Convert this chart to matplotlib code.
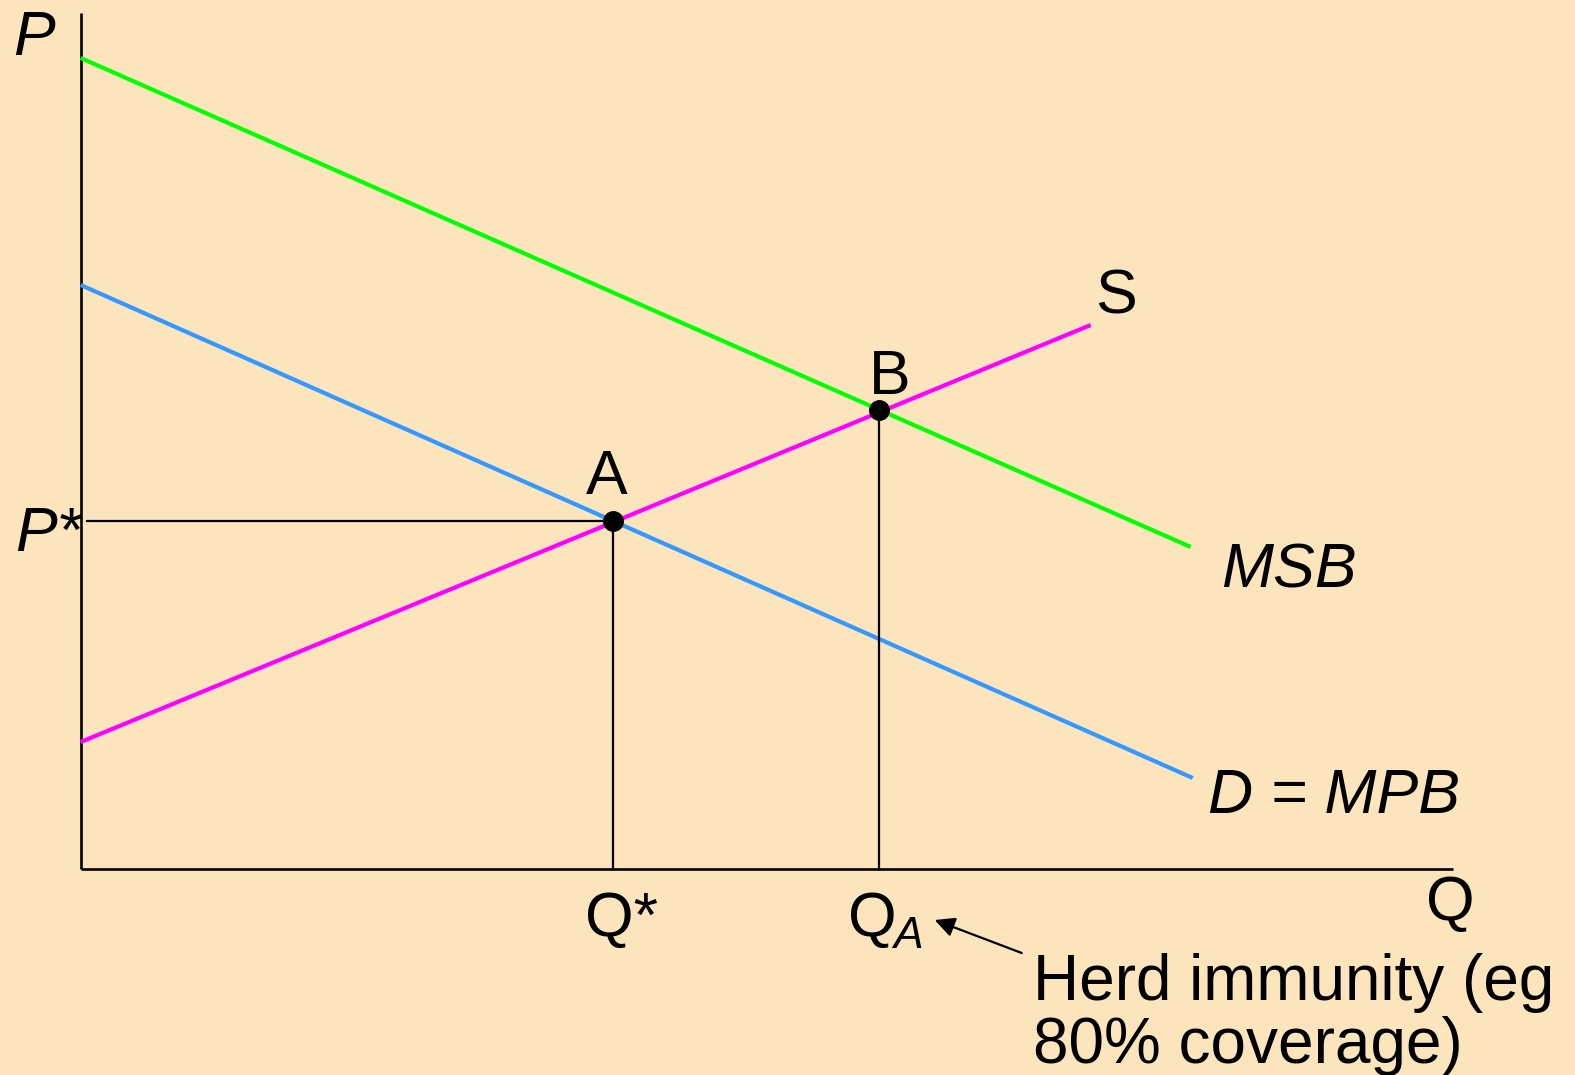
import matplotlib.pyplot as plt

plt.rcParams['font.family'] = ['Liberation Sans', 'DejaVu Sans']

# curve end points (quantity, price)
msb_q = [0, 111.0]
msb_p = [81.1, 32.2]
mpb_q = [0, 111.2]
mpb_p = [58.4, 9.1]
s_q = [0, 101.0]
s_p = [12.7, 54.4]

# equilibria
q_star, p_star = 53.2, 34.8
q_a, p_b = 79.8, 45.9

bg = '#FCE4BC'

fig = plt.figure(figsize=(15.75, 10.75), dpi=100, facecolor=bg)
ax = fig.add_axes([0, 0, 1, 1])
ax.set_facecolor(bg)
ax.set_xlim(-8.07, 149.43)
ax.set_ylim(-20.6, 86.9)
ax.axis('off')

# axes
ax.plot([0, 0], [0, 85.6], color='black', lw=1.9, solid_capstyle='butt')
ax.plot([0, 137.2], [0, 0], color='black', lw=1.9, solid_capstyle='butt')

# curves
ax.plot(msb_q, msb_p, color='#00FF00', lw=3.0, solid_capstyle='butt')
ax.plot(mpb_q, mpb_p, color='#3399FF', lw=3.0, solid_capstyle='butt')
ax.plot(s_q, s_p, color='#FF00FF', lw=3.0, solid_capstyle='butt')

# guide lines
ax.plot([0.6, q_star], [p_star, p_star], color='black', lw=1.6)
ax.plot([q_star, q_star], [0, p_star], color='black', lw=1.6)
ax.plot([q_a, q_a], [0, p_b], color='black', lw=1.6)

# points
ax.plot([q_star, q_a], [p_star, p_b], 'o', color='black', ms=14)

fs = 45
ax.text(-6.77, 81.4, 'P', fontsize=fs, style='italic', va='baseline')
ax.text(-6.57, 31.8, 'P*', fontsize=fs, style='italic', va='baseline')
ax.text(52.6, 37.5, 'A', fontsize=fs, ha='center', va='baseline')
ax.text(80.9, 47.5, 'B', fontsize=fs, ha='center', va='baseline')
ax.text(103.5, 55.5, 'S', fontsize=fs, ha='center', va='baseline')
ax.text(114.0, 28.2, 'MSB', fontsize=fs, style='italic', va='baseline')
ax.text(112.7, 5.6, 'D = MPB', fontsize=fs, style='italic', va='baseline')
ax.text(50.4, -6.7, 'Q*', fontsize=fs, va='baseline')
ax.text(76.7, -6.7, 'Q', fontsize=fs, va='baseline')
ax.text(81.3, -7.9, 'A', fontsize=32, style='italic', va='baseline')
ax.text(134.5, -5.1, 'Q', fontsize=fs, va='baseline')

ax.annotate('', xy=(85.4, -5.1), xytext=(94.1, -8.4),
            arrowprops=dict(arrowstyle='-|>', color='black', lw=1.6,
                            mutation_scale=30, shrinkA=0, shrinkB=0))
ax.text(95.2, -13.1, 'Herd immunity (eg', fontsize=46, va='baseline')
ax.text(95.2, -19.4, '80% coverage)', fontsize=46, va='baseline')

fig.savefig('out.png', dpi=100, facecolor=bg)
